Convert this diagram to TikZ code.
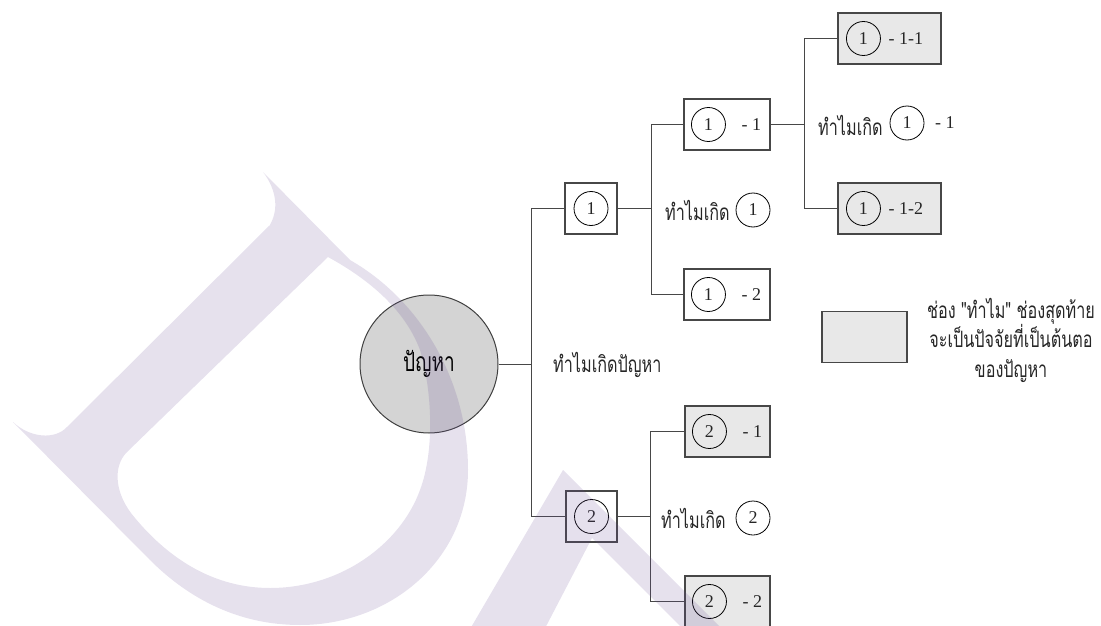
\documentclass[tikz,border=0pt]{standalone}
\usepackage{fontspec}
\setmainfont{Liberation Serif}
\newfontfamily\thai[Script=Thai, FakeStretch=0.72]{Loma}
\definecolor{wmc}{RGB}{105,75,150}
\definecolor{boxgray}{RGB}{232,232,232}
\definecolor{probgray}{RGB}{212,212,212}
\begin{document}
\begin{tikzpicture}[x=1pt,y=-1pt,
  link/.style={draw=black!72, line width=1pt},
  wbox/.style={draw=black!72, line width=1.1pt, fill=white, inner sep=0pt, minimum height=51pt},
  gbox/.style={wbox, fill=boxgray},
  num/.style={circle, draw=black, line width=0.8pt, minimum size=34pt, inner sep=0pt,
              font=\fontsize{18}{20}\selectfont, text=black!85},
  lbl/.style={anchor=west, inner sep=0pt, font=\fontsize{18}{20}\selectfont, text=black!85},
  th/.style={anchor=west, inner sep=0pt, font=\thai\fontsize{22.5}{25}\selectfont, text=black!85},
  wm/.style={fill=wmc, fill opacity=0.17}]
\useasboundingbox (0,0) rectangle (1101,626);

% root problem
\node[circle, draw=black!75, line width=1pt, fill=probgray, minimum size=138pt, inner sep=0pt,
      font=\thai\fontsize{26.5}{28}\selectfont] (prob) at (429,364) {ปัญหา};

% first level
\node[wbox, minimum width=52pt] (c1) at (591,208.5) {};
\node[num] (c1n) at (c1.center) {1};
\node[wbox, minimum width=51pt] (c2) at (591.5,516.5) {};
\node[num] (c2n) at (c2.center) {2};

% second level
\node[wbox, minimum width=86pt] (b11) at (727,124.5) {};
\node[num] (b11n) at ([xshift=25pt]b11.west) {1};
\node[lbl] (b11t) at ([xshift=58pt]b11.west) {- 1};
\node[wbox, minimum width=86pt] (b12) at (727,294.5) {};
\node[num] (b12n) at ([xshift=25pt]b12.west) {1};
\node[lbl] (b12t) at ([xshift=58pt]b12.west) {- 2};
\node[gbox, minimum width=85pt] (b21) at (727.5,431.5) {};
\node[num] (b21n) at ([xshift=25pt]b21.west) {2};
\node[lbl] (b21t) at ([xshift=58pt]b21.west) {- 1};
\node[gbox, minimum width=85pt] (b22) at (727.5,601.5) {};
\node[num] (b22n) at ([xshift=25pt]b22.west) {2};
\node[lbl] (b22t) at ([xshift=58pt]b22.west) {- 2};

% third level
\node[gbox, minimum width=103pt] (b111) at (889.5,38.5) {};
\node[num] (b111n) at ([xshift=26pt]b111.west) {1};
\node[lbl] (b111t) at ([xshift=51pt]b111.west) {- 1-1};
\node[gbox, minimum width=103pt] (b112) at (889.5,208.5) {};
\node[num] (b112n) at ([xshift=26pt]b112.west) {1};
\node[lbl] (b112t) at ([xshift=51pt]b112.west) {- 1-2};

% legend
\node[gbox, minimum width=85pt] (key) at (864.5,337) {};
\node[th, anchor=center, align=center, font=\thai\fontsize{22.5}{29.5}\selectfont] (keyt) at (1011,340)
  {ช่อง "ทำไม" ช่องสุดท้าย\\จะเป็นปัจจัยที่เป็นต้นตอ\\ของปัญหา};

% junction points of the tree
\coordinate (t0) at (531,364);
\coordinate (t1) at (651,208.5);
\coordinate (t2) at (804.5,124.5);
\coordinate (t3) at (650.5,516.5);

% questions beside each junction
\node[th] (q0) at (553,365) {ทำไมเกิดปัญหา};
\node[th] (q1) at (665,210) {ทำไมเกิด};
\node[num] (q1n) at (753,210) {1};
\node[th] (q2) at (818,125) {ทำไมเกิด};
\node[num] (q2n) at (907,123) {1};
\node[lbl] (q2t) at (935,123) {- 1};
\node[th] (q3) at (661,518) {ทำไมเกิด};
\node[num] (q3n) at (753,518) {2};

% connectors
\draw[link] (prob.east) -- (t0);
\draw[link] (c1.west) -| (t0);
\draw[link] (c2.west) -| (t0);
\draw[link] (c1.east) -- (t1);
\draw[link] (b11.west) -| (t1);
\draw[link] (b12.west) -| (t1);
\draw[link] (b11.east) -- (t2);
\draw[link] (b111.west) -| (t2);
\draw[link] (b112.west) -| (t2);
\draw[link] (c2.east) -- (t3);
\draw[link] (b21.west) -| (t3);
\draw[link] (b22.west) -| (t3);

% faint letterforms laid over the chart
\begin{scope}
  \clip (0,0) rectangle (1101,626);
  \fill[wm, even odd rule]
    (263,172) .. controls (273,185) and (281,205) .. (270,225) -- (67,427)
      .. controls (55,440) and (30,438) .. (13,422) -- (150,560)
      .. controls (190,600) and (240,625) .. (300,625)
      .. controls (390,625) and (468,560) .. (468,470)
      .. controls (468,380) and (420,300) .. (350,260) -- cycle
    (328,257) -- (127,452) .. controls (112,467) and (115,495) .. (135,518)
      .. controls (170,560) and (215,588) .. (270,588)
      .. controls (340,588) and (400,545) .. (420,490)
      .. controls (435,450) and (432,390) .. (420,350)
      .. controls (405,310) and (370,280) .. (328,257) -- cycle;
  \fill[wm] (563,470) -- (729,636) -- (690,636) -- (592,538) -- (541,636) -- (466,636) -- cycle;
\end{scope}
\end{tikzpicture}
\end{document}
